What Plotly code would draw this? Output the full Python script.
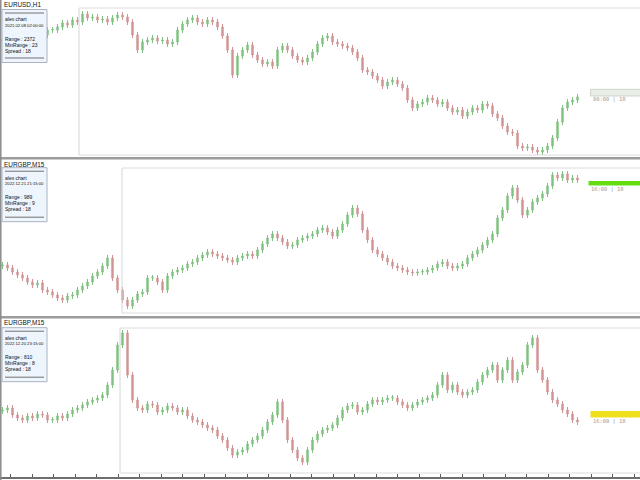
import plotly.graph_objects as go

# ---------------- data (relative price units) ----------------
eurusd_h1_close = [
    120, 118, 122, 116, 120, 124, 122, 127, 125, 130,
    130, 133, 137, 135, 140, 138, 146, 142, 143, 140,
    141, 138, 142, 145, 143, 138, 125, 110, 118, 120,
    122, 119, 120, 116, 118, 130, 136, 140, 142, 138,
    136, 140, 138, 133, 124, 110, 85, 104, 110, 115,
    105, 100, 96, 98, 94, 110, 114, 110, 104, 100,
    98, 102, 108, 116, 122, 124, 118, 116, 114, 112,
    108, 102, 90, 88, 84, 80, 74, 78, 80, 76,
    72, 60, 52, 56, 58, 62, 60, 56, 58, 52,
    48, 50, 44, 48, 52, 50, 56, 54, 46, 42,
    34, 28, 27, 14, 12, 13, 10, 8, 10, 14,
    22, 38, 52, 58, 60, 63,
]

eurgbp_m15_a_close = [
    55, 52, 48, 45, 42, 38, 35, 37, 30, 28,
    25, 22, 20, 24, 25, 30, 34, 38, 44, 48,
    54, 62, 42, 30, 20, 14, 20, 26, 28, 42,
    42, 38, 30, 44, 48, 50, 52, 56, 58, 62,
    65, 68, 66, 64, 62, 60, 58, 62, 64, 66,
    64, 70, 76, 82, 86, 82, 78, 74, 75, 80,
    82, 84, 86, 90, 92, 88, 84, 90, 96, 105,
    112, 106, 90, 80, 70, 66, 62, 58, 54, 52,
    50, 48, 47, 48, 48, 50, 52, 56, 58, 54,
    52, 54, 56, 62, 66, 70, 75, 80, 86, 102,
    110, 124, 132, 120, 105, 110, 118, 122, 126, 134,
    145, 142, 146, 140, 142, 140,
]

eurgbp_m15_b_close = [
    70, 72, 65, 62, 60, 64, 62, 66, 65, 60,
    60, 64, 62, 66, 70, 72, 75, 78, 80, 82,
    85, 95, 110, 135, 147, 105, 80, 72, 70, 76,
    75, 68, 70, 74, 72, 68, 70, 64, 60, 58,
    55, 52, 50, 44, 40, 32, 25, 28, 30, 36,
    40, 44, 50, 58, 65, 78, 60, 40, 30, 22,
    18, 30, 40, 46, 50, 52, 55, 62, 70, 74,
    75, 68, 70, 76, 80, 78, 80, 82, 82, 78,
    75, 72, 75, 78, 80, 82, 85, 95, 105, 90,
    95, 88, 85, 88, 90, 98, 105, 110, 115, 100,
    110, 120, 100, 108, 115, 135, 142, 110, 100, 88,
    80, 76, 70, 66, 60, 58,
]

symbols = ["EURUSD,H1", "EURGBP,M15", "EURGBP,M15"]
info_dates = ["2021.02.08 02:00:00", "2022.12.21 21:15:00", "2022.12.20 23:15:00"]
info_range = [2372, 989, 810]
info_minrange = [23, 9, 8]
info_spread = [18, 18, 18]
timer_labels = ["00:00 | 18", "16:00 | 18", "16:00 | 18"]

WICK = 3

UP_LINE, UP_FILL = "#80c080", "#a9dba9"
DN_LINE, DN_FILL = "#cf9494", "#e6b8b8"

W, H = 640, 480
def X(px):
    return px / W
def Y(py):
    return 1 - py / H

fig = go.Figure()

series = [eurusd_h1_close, eurgbp_m15_a_close, eurgbp_m15_b_close]
for k, close in enumerate(series):
    opens = [close[0] - 1] + close[:-1]
    highs = [max(o, c) + WICK for o, c in zip(opens, close)]
    lows = [min(o, c) - WICK for o, c in zip(opens, close)]
    idx = list(range(len(close)))
    up = [c >= o for o, c in zip(opens, close)]
    sfx = "" if k == 0 else str(k + 1)
    # wicks
    for is_up, col in ((True, UP_LINE), (False, DN_LINE)):
        wx, wy = [], []
        for i in idx:
            if up[i] == is_up:
                wx += [i, i, None]
                wy += [lows[i], highs[i], None]
        fig.add_trace(go.Scatter(x=wx, y=wy, mode="lines", line=dict(color=col, width=1),
                                 xaxis="x" + sfx, yaxis="y" + sfx, hoverinfo="skip",
                                 showlegend=False))
    # bodies
    base = [min(o, c) for o, c in zip(opens, close)]
    height = [max(abs(c - o), 0.7) for o, c in zip(opens, close)]
    fig.add_trace(go.Bar(
        x=idx, y=height, base=base, width=0.42,
        marker=dict(color=[UP_FILL if u else DN_FILL for u in up],
                    line=dict(color=[UP_LINE if u else DN_LINE for u in up], width=0.6)),
        xaxis="x" + sfx, yaxis="y" + sfx, hoverinfo="skip", showlegend=False,
    ))

# panel pixel extents (top, bottom)
panels = [(0, 157), (160, 316), (319, 477)]
yranges = [[3, 160], [4, 160], [3, 161]]

layout = dict(
    width=W, height=H, margin=dict(l=0, r=0, t=0, b=0),
    paper_bgcolor="white", plot_bgcolor="white", showlegend=False, barmode="overlay",
)
for k, ((top, bot), yr) in enumerate(zip(panels, yranges)):
    sfx = "" if k == 0 else str(k + 1)
    xa = dict(domain=[0, 1], anchor="y" + sfx, range=[-0.5, 127.5],
              showgrid=False, zeroline=False, showticklabels=False, fixedrange=True)
    if k == 2:
        xa.update(visible=True, showline=True, linecolor="#6e6e6e", linewidth=2,
                  ticks="inside", ticklen=3, tickcolor="#5a5a5a", tickwidth=1,
                  tick0=5.9, dtick=4.3)
    else:
        xa.update(visible=False)
    layout["xaxis" + sfx] = xa
    layout["yaxis" + sfx] = dict(domain=[Y(bot), Y(top)], anchor="x" + sfx, range=yr,
                                 visible=False, fixedrange=True)

shapes = []
def line(x0, y0, x1, y1, color, width=1):
    shapes.append(dict(type="line", xref="paper", yref="paper", x0=X(x0), y0=Y(y0),
                       x1=X(x1), y1=Y(y1), line=dict(color=color, width=width), layer="above"))
def rect(x0, y0, x1, y1, fill, lc=None, lw=0):
    shapes.append(dict(type="rect", xref="paper", yref="paper", x0=X(x0), y0=Y(y0),
                       x1=X(x1), y1=Y(y1), fillcolor=fill,
                       line=dict(color=lc or fill, width=lw), layer="above"))

# frames (light)
frames = [(79, 8, 155), (122, 168, 313), (120, 328, 473)]
for fx, ft, fb in frames:
    line(fx, ft, fx, fb, "#d6d6d6")
    line(fx, ft, 640, ft, "#dcdcdc")
    line(fx, fb, 640, fb, "#dcdcdc")

# separators
rect(0, 157, 640, 159.5, "#9c9c9c")
rect(0, 316, 640, 318.5, "#9c9c9c")
# left border
line(0.8, 0, 0.8, 480, "#8a8a8a", 1.5)

# info boxes
boxes = [(9.5, 62.5), (167.7, 221.7), (327.7, 381.7)]
for (bt, bb) in boxes:
    rect(2, bt, 47, bb, "#eef5fc", "#a8b4c2", 1)
    line(5, bt + 3.5, 44, bt + 3.5, "#707070", 1)
    line(5, bb - 4.5, 44, bb - 4.5, "#707070", 1)

# timer bars
rect(590.5, 89.3, 641, 96, "#e8eee6", "#cfd6cc", 1)
rect(588.5, 181, 641, 185.5, "#66dd11")
rect(590.5, 411, 641, 417.5, "#f0df1c")

layout["shapes"] = shapes

ann = []
FONT = "Liberation Sans, sans-serif"
def text(x, y, s, size=5.0, color="#111111", family=FONT):
    ann.append(dict(xref="paper", yref="paper", x=X(x), y=Y(y), text=s, showarrow=False,
                    xanchor="left", yanchor="middle", borderpad=0,
                    font=dict(size=size, color=color, family=family)))

label_y = [5, 164.5, 322.5]
for k in range(3):
    text(2.5, label_y[k], symbols[k], size=6.4)
    bt, bb = boxes[k]
    text(4, bt + 9.8, "alex chart")
    text(4, bt + 15.6, info_dates[k], size=4.2)
    text(4, bt + 29, "Range : %d" % info_range[k])
    text(4, bt + 35, "MinRange : %d" % info_minrange[k])
    text(4, bt + 41.5, "Spread : %d" % info_spread[k])

timer_y = [99.5, 189.5, 421]
timer_x = [591.5, 589.5, 591.5]
for k in range(3):
    text(timer_x[k], timer_y[k], timer_labels[k], size=5.4, color="#9a9a9a",
         family="DejaVu Sans Mono")

layout["annotations"] = ann
fig.update_layout(**layout)
fig.write_html("out.html", config={"displayModeBar": False},
               post_script="document.body.style.margin='0';"
               "document.body.style.overflow='hidden';")
